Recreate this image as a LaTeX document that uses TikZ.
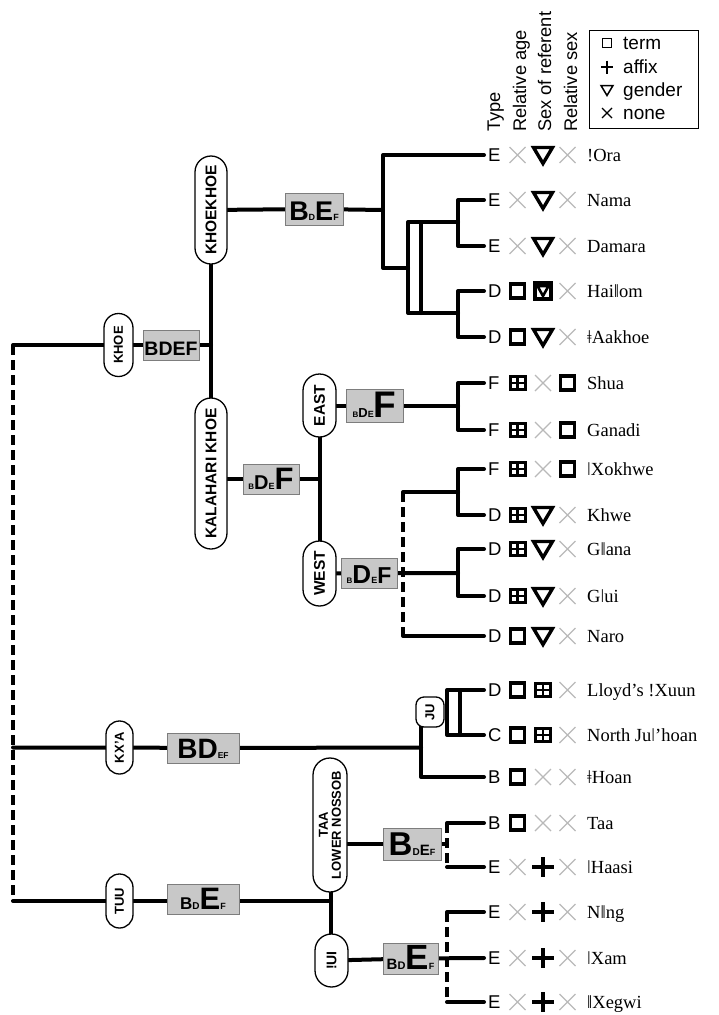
\documentclass[tikz,border=0pt]{standalone}
\usepackage{fontspec}
\setmainfont{Liberation Serif}
\setsansfont{Liberation Sans}
\usetikzlibrary{shapes.misc}
\definecolor{boxgray}{RGB}{200,200,200}
\definecolor{boxedge}{RGB}{125,125,125}
\definecolor{xgray}{RGB}{185,185,185}
\newcommand\fz[1]{\fontsize{#1}{#1}\selectfont}
\newcommand\fl[2]{{\fz{#1}#2}}
\pgfdeclarelayer{bg}
\pgfsetlayers{bg,main}
\tikzset{
 tree/.style={line width=4pt, line cap=round, line join=round},
 dashtree/.style={line width=4pt, dash pattern=on 10pt off 5pt, line cap=butt},
 pill/.style={rounded rectangle, draw, fill=white, line width=1.3pt, rotate=90, inner sep=1pt, font=\sffamily\bfseries\fz{15.5}},
 fbox/.style={rectangle, draw=boxedge, fill=boxgray, line width=0.9pt, inner xsep=1pt, inner ysep=0pt, text height=25pt, text depth=5pt, font=\sffamily\bfseries},
 typ/.style={inner sep=0pt, anchor=base west, font=\sffamily\fz{18.5}},
 lname/.style={inner sep=0pt, anchor=base west, font=\fz{18.5}},
 hdr/.style={inner sep=0pt, rotate=90, anchor=base west, font=\sffamily\fz{18.3}},
 lgd/.style={inner sep=0pt, anchor=base west, font=\sffamily\fz{19}},
 pgx/.pic={\draw[xgray, line width=1.3pt] (-8,-8) -- (8,8) (-8,8) -- (8,-8);},
 ptri/.pic={\draw[line width=3.4pt, line join=miter] (-9.5,-7.5) -- (9.5,-7.5) -- (0,8.5) -- cycle;},
 psq/.pic={\draw[line width=3.3pt] (-7,-7) rectangle (7,7);},
 pgrid/.pic={\draw[line width=3pt] (-7.5,-6.5) rectangle (7.5,6.5); \draw[line width=2.6pt] (0,-6.5) -- (0,6.5) (-7.5,0) -- (7.5,0);},
 psqtri/.pic={\draw[line width=3.3pt] (-8,-8) rectangle (8,8); \draw[line width=2.6pt, line join=miter] (-5.5,-5) -- (5.5,-5) -- (0,5) -- cycle;},
 pplus/.pic={\draw[line width=3.6pt] (-11,0) -- (11,0) (0,-10) -- (0,10);},
 lsq/.pic={\draw[line width=1.3pt] (-4.5,-4.5) rectangle (4.5,4.5);},
 lplus/.pic={\draw[line width=1.4pt] (-6,0) -- (6,0) (0,-6.5) -- (0,6.5);},
 ltri/.pic={\draw[line width=1.5pt] (-6,-4.5) -- (6,-4.5) -- (0,5.5) -- cycle;},
 lx/.pic={\draw[line width=1.2pt] (-5,-5) -- (5,5) (-5,5) -- (5,-5);},
}
\newcommand\leaf[7]{%
 \coordinate (#1) at (484,#2);
 \node[typ] (#1-t) at (488,{#2+6.6}) {#3};
 \pic at (517.5,#2) {#4};
 \pic at (543,#2) {#5};
 \pic at (567.5,#2) {#6};
 \node[lname] (#1-n) at (587,{#2+6.6}) {#7};}
\begin{document}
\begin{tikzpicture}[x=1pt,y=-1pt]
\useasboundingbox (0,0) rectangle (718,1015);

% headers
\node[hdr] (h1) at (500,132) {Type};
\node[hdr] (h2) at (526,132) {Relative age};
\node[hdr] (h3) at (551,132) {Sex of referent};
\node[hdr] (h4) at (577,132) {Relative sex};

% legend
\node[draw, line width=1pt, minimum width=109pt, minimum height=98pt, inner sep=0pt] (lg) at (643.5,79) {};
\pic at (607,43) {lsq};   \node[lgd] (l1) at (623,49) {term};
\pic at (607,67) {lplus}; \node[lgd] (l2) at (623,73) {affix};
\pic at (607,90) {ltri};  \node[lgd] (l3) at (623,96) {gender};
\pic at (607,113) {lx};   \node[lgd] (l4) at (623,119) {none};

% leaves
\leaf{ora}{155}{E}{pgx}{ptri}{pgx}{!Ora}
\leaf{nama}{200}{E}{pgx}{ptri}{pgx}{Nama}
\leaf{damara}{246}{E}{pgx}{ptri}{pgx}{Damara}
\leaf{haiom}{291}{D}{psq}{psqtri}{pgx}{Haiǁom}
\leaf{aakhoe}{337}{D}{psq}{ptri}{pgx}{ǂAakhoe}
\leaf{shua}{383}{F}{pgrid}{pgx}{psq}{Shua}
\leaf{ganadi}{430}{F}{pgrid}{pgx}{psq}{Ganadi}
\leaf{xokhwe}{469}{F}{pgrid}{pgx}{psq}{ǀXokhwe}
\leaf{khwe}{515}{D}{pgrid}{ptri}{pgx}{Khwe}
\leaf{gana}{549}{D}{pgrid}{ptri}{pgx}{Gǁana}
\leaf{gui}{596}{D}{pgrid}{ptri}{pgx}{Gǀui}
\leaf{naro}{636}{D}{psq}{ptri}{pgx}{Naro}
\leaf{xuun}{690}{D}{psq}{pgrid}{pgx}{Lloyd’s !Xuun}
\leaf{juhoan}{735}{C}{psq}{pgrid}{pgx}{North Juǀ’hoan}
\leaf{hoan}{777}{B}{psq}{pgx}{pgx}{ǂHoan}
\leaf{taa}{823}{B}{psq}{pgx}{pgx}{Taa}
\leaf{haasi}{867}{E}{pgx}{pplus}{pgx}{ǀHaasi}
\leaf{nng}{912}{E}{pgx}{pplus}{pgx}{Nǁng}
\leaf{xam}{958}{E}{pgx}{pplus}{pgx}{ǀXam}
\leaf{xegwi}{1002}{E}{pgx}{pplus}{pgx}{ǁXegwi}

% group pills
\node[pill, minimum width=65pt, minimum height=29pt, font=\sffamily\bfseries\fz{13}] (khoe) at (118.5,345) {KHOE};
\node[pill, minimum width=110pt, minimum height=32pt] (kk) at (211,210) {KHOEKHOE};
\node[pill, minimum width=153pt, minimum height=32pt] (kal) at (211,473.5) {KALAHARI KHOE};
\node[pill, minimum width=65pt, minimum height=33pt] (east) at (319.5,405.5) {EAST};
\node[pill, minimum width=67pt, minimum height=33pt] (west) at (319.5,573.5) {WEST};
\node[pill, minimum width=55pt, minimum height=27pt, font=\sffamily\bfseries\fz{13}] (kxa) at (119.5,747.5) {KX’A};
\node[pill, minimum width=56pt, minimum height=27pt, font=\sffamily\bfseries\fz{13}] (tuu) at (119.5,901) {TUU};
\node[draw, fill=white, line width=1.3pt, rounded corners=8pt, rotate=90, inner sep=1pt, minimum width=30pt, minimum height=28pt, font=\sffamily\bfseries\fz{13}] (ju) at (430,712) {JU};
\node[pill, minimum width=136pt, minimum height=34pt, align=center, font=\sffamily\bfseries\fz{13}] (taap) at (330,825) {TAA\\LOWER NOSSOB};
\node[pill, minimum width=55pt, minimum height=33pt, font=\sffamily\bfseries\fz{14}] (ui) at (331.5,960.5) {!UI};

% feature boxes
\node[fbox, minimum width=56pt] (f-khoe) at (171,345) {\fl{19.5}{BDEF}};
\node[fbox, minimum width=58pt, text height=27pt] (f-kk) at (314,209) {\fl{27}{B}\fl{9}{D}\fl{27}{E}\fl{9}{F}};
\node[fbox, minimum width=56pt] (f-kal) at (271,479) {\fl{8}{B}\fl{20}{D}\fl{9}{E}\fl{31}{F}};
\node[fbox, minimum width=57pt, text height=28pt] (f-east) at (374.5,405.5) {\fl{8}{B}\fl{13}{D}\fl{9}{E}\fl{37}{F}};
\node[fbox, minimum width=56pt] (f-west) at (369,573) {\fl{8}{B}\fl{26}{D}\fl{9}{E}\fl{23}{F}};
\node[fbox, minimum width=72pt] (f-kxa) at (203,748) {\fl{28}{BD}\fl{8.5}{EF}};
\node[fbox, minimum width=72pt] (f-tuu) at (203,899) {\fl{17}{B}\fl{10}{D}\fl{31}{E}\fl{9}{F}};
\node[fbox, minimum width=58pt, text height=27pt] (f-taa) at (412,844) {\fl{33}{B}\fl{10}{D}\fl{15}{E}\fl{9}{F}};
\node[fbox, minimum width=55pt, text height=26pt] (f-ui) at (410.5,958.5) {\fl{15}{B}\fl{11}{D}\fl{35}{E}\fl{9}{F}};

% junction coordinates
\coordinate (r-top) at (13,345);
\coordinate (r-mid) at (13,747.5);
\coordinate (r-bot) at (13,901);
\coordinate (kj) at (211,345);
\coordinate (kkb) at (383,210);
\coordinate (b1) at (383,268);
\coordinate (r-tl) at (408,222);
\coordinate (r-bl) at (408,313);
\coordinate (r-tr) at (421,222);
\coordinate (r-br) at (421,313);
\coordinate (c-nd) at (458,222);
\coordinate (c-ha) at (458,313);
\coordinate (ew) at (319.5,479);
\coordinate (c-east) at (458,405.5);
\coordinate (c-west) at (458,573);
\coordinate (dw-top) at (403,492);
\coordinate (dw-bot) at (403,636);
\coordinate (c-xk) at (458,492);
\coordinate (jv) at (421,747.5);
\coordinate (ju-bot) at (421,722);
\coordinate (j-tl) at (447,690);
\coordinate (j-bl) at (447,735);
\coordinate (j-tr) at (460,690);
\coordinate (j-br) at (460,735);
\coordinate (tj) at (331,901);
\coordinate (tl) at (331,844);
\coordinate (c-taa) at (447,844);
\coordinate (d-taa-t) at (447,823);
\coordinate (d-taa-b) at (447,867);
\coordinate (d-ui-t) at (447,912);
\coordinate (d-ui-b) at (447,1002);

\begin{pgfonlayer}{bg}
\draw[dashtree] (r-top) -- (r-bot);
\draw[tree] (r-top) -- (khoe.center) -- (f-khoe.center) -- (kj);
\draw[tree] (kk.center) -- (kal.center);
% Khoekhoe
\draw[tree] (kk.center) -- (f-kk.center) -- (kkb);
\draw[tree] (ora) -| (b1) -- (r-bl |- b1);
\draw[tree] (nama) -| (c-nd) |- (damara);
\draw[tree] (c-nd) -- (r-tl) -- (r-bl) -- (c-ha);
\draw[tree] (r-tr) -- (r-br);
\draw[tree] (haiom) -| (c-ha) |- (aakhoe);
% Kalahari
\draw[tree] (kal.center |- ew) -- (f-kal.center) -- (ew);
\draw[tree] (east.center) -- (west.center);
\draw[tree] (east.center) -- (f-east.center) -- (c-east);
\draw[tree] (shua) -| (c-east) |- (ganadi);
\draw[tree] (west.center) -- (f-west.center) -- (c-west);
\draw[tree] (gana) -| (c-west) |- (gui);
\draw[dashtree] (dw-top) -- (dw-bot);
\draw[tree] (dw-top) -- (c-xk);
\draw[tree] (xokhwe) -| (c-xk) |- (khwe);
\draw[tree] (dw-bot) -- (naro);
% Kx'a
\draw[tree] (r-mid) -- (kxa.center) -- (f-kxa.center) -- (jv);
\draw[tree] (ju-bot) |- (hoan);
\draw[tree] (xuun) -- (j-tl) -- (j-bl) -- (juhoan);
\draw[tree] (j-tr) -- (j-br);
% Tuu
\draw[tree] (r-bot) -- (tuu.center) -- (f-tuu.center |- tj) -- (tj);
\draw[tree] (taap.center -| tj) -- (ui.center -| tj);
\draw[tree] (tl) -- (f-taa.center) -- (c-taa);
\draw[dashtree] (d-taa-t) -- (d-taa-b);
\draw[tree] (taa) -- (d-taa-t);
\draw[tree] (haasi) -- (d-taa-b);
\draw[tree] (ui.center) -- (f-ui.center) -- (xam);
\draw[dashtree] (d-ui-t) -- (d-ui-b);
\draw[tree] (nng) -- (d-ui-t);
\draw[tree] (xegwi) -- (d-ui-b);
\end{pgfonlayer}
\end{tikzpicture}
\end{document}
